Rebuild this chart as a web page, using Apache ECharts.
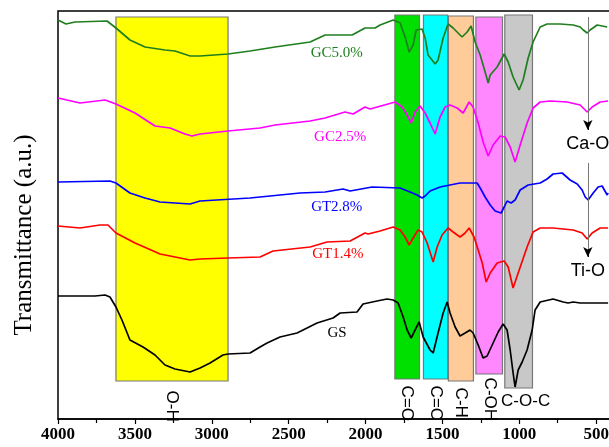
<!DOCTYPE html>
<html>
<head>
<meta charset="utf-8">
<script src="https://cdn.jsdelivr.net/npm/echarts@6/dist/echarts.min.js"></script>
<style>
	html, body { margin: 0; padding: 0; background: #fff; }
	#chart { width: 609px; height: 447px; }
</style>
</head>
<body>
<div id="chart"></div>
<script>
// wavenumber (cm-1) / transmittance (a.u., offset per curve)
var gsWave = [4000, 3759, 3694, 3662, 3623, 3584, 3532, 3447, 3369, 3304, 3239, 3141, 3076, 3011, 2927, 2894, 2751, 2686, 2640, 2556, 2445, 2380, 2315, 2211, 2165, 2055, 2016, 1925, 1860, 1820, 1788, 1755, 1729, 1703, 1671, 1651, 1625, 1580, 1560, 1528, 1495, 1469, 1450, 1417, 1385, 1352, 1320, 1300, 1267, 1235, 1209, 1176, 1137, 1105, 1079, 1059, 1040, 1027, 1007, 981, 949, 916, 897, 864, 780, 714, 682, 649, 604, 519, 422];
var gsT = [123, 123, 124, 122, 112, 99, 79, 72, 64, 54, 50, 47, 51, 56, 64, 65, 66, 72, 76, 82, 86, 91, 96, 101, 106, 107, 115, 118, 120, 119, 116, 102, 89, 81, 91, 97, 82, 69, 66, 86, 106, 117, 106, 92, 83, 86, 89, 86, 74, 61, 63, 74, 87, 95, 89, 69, 46, 32, 49, 57, 69, 89, 109, 117, 120, 117, 116, 117, 116, 116, 116];

var gt14Wave = [4000, 3857, 3727, 3675, 3623, 3499, 3336, 3141, 3076, 2894, 2686, 2601, 2360, 2250, 2100, 2003, 1983, 1905, 1820, 1775, 1742, 1716, 1690, 1658, 1632, 1599, 1560, 1534, 1502, 1463, 1430, 1385, 1352, 1326, 1294, 1267, 1241, 1215, 1189, 1144, 1098, 1072, 1040, 1007, 949, 910, 864, 780, 649, 591, 558, 526, 474, 422];
var gt14T = [193, 191, 194, 194, 186, 176, 165, 159, 160, 161, 162, 168, 172, 177, 178, 186, 185, 188, 192, 189, 182, 174, 181, 189, 187, 176, 157, 172, 184, 191, 187, 182, 186, 191, 182, 169, 156, 137, 146, 156, 158, 152, 131, 146, 172, 187, 191, 191, 189, 186, 180, 186, 191, 191];

var gt28Wave = [4000, 3662, 3623, 3532, 3434, 3336, 3141, 3076, 2751, 2426, 2263, 2146, 2100, 1957, 1775, 1710, 1664, 1632, 1612, 1580, 1515, 1450, 1385, 1274, 1254, 1222, 1189, 1157, 1118, 1098, 1079, 1053, 1027, 994, 942, 864, 819, 780, 721, 669, 623, 591, 571, 552, 519, 487, 461, 428, 422];
var gt28T = [237, 238, 236, 226, 221, 217, 215, 218, 221, 226, 227, 230, 228, 232, 231, 227, 224, 221, 223, 228, 232, 234, 236, 236, 231, 222, 214, 208, 206, 212, 218, 216, 219, 229, 234, 236, 240, 245, 246, 239, 235, 229, 222, 219, 226, 232, 233, 224, 226];

var gc25Wave = [4000, 3857, 3694, 3623, 3499, 3369, 3271, 3174, 3128, 3076, 2894, 2686, 2588, 2360, 2263, 2133, 2081, 2003, 1970, 1807, 1762, 1736, 1703, 1677, 1645, 1612, 1580, 1547, 1515, 1482, 1450, 1404, 1365, 1326, 1300, 1267, 1235, 1202, 1170, 1124, 1092, 1059, 1027, 994, 949, 910, 864, 799, 688, 604, 558, 526, 474, 422];
var gc25T = [321, 316, 319, 315, 306, 293, 291, 285, 283, 285, 288, 291, 294, 298, 301, 307, 305, 312, 310, 317, 312, 306, 296, 307, 313, 306, 296, 285, 302, 312, 314, 311, 306, 317, 312, 296, 277, 263, 274, 283, 282, 272, 257, 274, 296, 311, 317, 318, 317, 314, 307, 312, 317, 318];

var gc50Wave = [4000, 3948, 3889, 3681, 3623, 3532, 3434, 3304, 3239, 3141, 3076, 2894, 2751, 2588, 2360, 2263, 2087, 2003, 1938, 1905, 1820, 1775, 1742, 1716, 1690, 1671, 1658, 1632, 1612, 1593, 1547, 1528, 1495, 1463, 1430, 1372, 1339, 1313, 1287, 1254, 1222, 1202, 1189, 1144, 1098, 1072, 1040, 1001, 975, 942, 910, 864, 819, 734, 649, 604, 584, 558, 539, 493, 428];
var gc50T = [399, 395, 397, 398, 391, 379, 372, 369, 368, 363, 363, 365, 368, 372, 377, 384, 384, 391, 391, 394, 399, 396, 382, 367, 374, 389, 391, 390, 381, 364, 355, 359, 381, 395, 391, 382, 387, 393, 377, 364, 347, 336, 344, 352, 365, 357, 342, 329, 339, 361, 377, 392, 395, 395, 394, 392, 389, 386, 389, 394, 392];

var seriesNames = ['GS', 'GT1.4%', 'GT2.8%', 'GC2.5%', 'GC5.0%'];
var seriesColors = ['#000000', '#ff0000', '#0000ff', '#ff00ff', '#1f7f1f'];
// where the curve names sit [wavenumber, a.u.]
var nameSpots = [[2185, 86], [2180, 165], [2187, 212], [2165, 282], [2187, 366]];

// assignment bands: from / to wavenumber, top / bottom, label, colour
var bandFrom = [3623, 1809, 1623, 1461, 1282, 1094];
var bandTo = [2894, 1649, 1465, 1298, 1109, 914];
var bandTop = [402, 404, 404, 403, 402, 404];
var bandBottom = [38, 40, 40, 38, 45, 31];
var bandLabels = ['O-H', 'C=O', 'C=C', 'C-H', 'C-OH', 'C-O-C'];
var bandColors = ['#ffff00', '#00e000', '#00ffff', '#ffcc99', '#ff88ff', '#c8c8c8'];

// Ca-O / Ti-O arrows: wavenumber, from, to
var arrowLabels = ['Ca-O', 'Ti-O'];
var arrowWave = [554, 554];
var arrowFrom = [402, 256];
var arrowTo = [289, 162];

var xTicks = { min: 0, max: 4000, step: 500 };

var serif = '"Times New Roman", "Liberation Serif", serif';
var sans = 'Arial, "Liberation Sans", sans-serif';

function zip(a, b) {
	var out = [];
	for (var i = 0; i < a.length; i++) {
		out.push([a[i], b[i]]);
	}
	return out;
}

var waves = [gsWave, gt14Wave, gt28Wave, gc25Wave, gc50Wave];
var values = [gsT, gt14T, gt28T, gc25T, gc50T];

var bandData = [];
for (var i = 0; i < bandFrom.length; i++) {
	var rotated = bandLabels[i] !== 'C-O-C';
	bandData.push([
		{
			name: bandLabels[i],
			xAxis: bandFrom[i],
			yAxis: bandTop[i],
			itemStyle: { color: bandColors[i], borderColor: '#777', borderWidth: 1.2 },
			label: rotated ? {
				rotate: -90,
				align: 'left',
				verticalAlign: 'middle',
				distance: i === 0 ? 9 : (i === 4 ? 3 : 6)
			} : {
				distance: 4,
				offset: [7, 0]
			}
		},
		{ xAxis: bandTo[i], yAxis: bandBottom[i] }
	]);
}

// gray shaft without head, short black piece carries the head + label
var shaftData = [];
var headData = [];
for (var i = 0; i < arrowLabels.length; i++) {
	shaftData.push([
		{ coord: [arrowWave[i], arrowFrom[i]] },
		{ coord: [arrowWave[i], arrowTo[i]] }
	]);
	headData.push([
		{ name: arrowLabels[i], coord: [arrowWave[i], arrowTo[i] + 3] },
		{ coord: [arrowWave[i], arrowTo[i]] }
	]);
}

var series = [
	{
		name: 'bands',
		type: 'line',
		data: [],
		z: 1,
		markArea: {
			silent: true,
			label: {
				show: true,
				position: 'bottom',
				color: '#000',
				fontFamily: sans,
				fontSize: 17
			},
			data: bandData
		}
	},
	{
		name: 'shafts',
		type: 'line',
		data: [],
		z: 2,
		markLine: {
			silent: true,
			symbol: ['none', 'none'],
			lineStyle: { color: '#777', width: 1, type: 'solid' },
			label: { show: false },
			data: shaftData
		}
	},
	{
		name: 'heads',
		type: 'line',
		data: [],
		z: 2,
		markLine: {
			silent: true,
			symbol: ['none', 'arrow'],
			symbolSize: [7, 10],
			lineStyle: { color: '#000', width: 1, type: 'solid' },
			label: {
				show: true,
				position: 'end',
				distance: 5,
				formatter: '{b}',
				color: '#000',
				fontFamily: sans,
				fontSize: 18
			},
			data: headData
		}
	}
];

for (var s = 0; s < seriesNames.length; s++) {
	series.push({
		name: seriesNames[s],
		type: 'line',
		z: 3,
		showSymbol: false,
		symbol: 'none',
		color: seriesColors[s],
		lineStyle: { width: 1.7, color: seriesColors[s] },
		data: zip(waves[s], values[s]),
		markPoint: {
			silent: true,
			symbol: 'circle',
			symbolSize: 1,
			itemStyle: { color: 'rgba(0,0,0,0)' },
			label: {
				show: true,
				position: 'inside',
				formatter: seriesNames[s],
				color: seriesColors[s],
				fontFamily: serif,
				fontSize: 15
			},
			data: [{ coord: nameSpots[s] }]
		}
	});
}

var chart = echarts.init(document.getElementById('chart'), null, { renderer: 'canvas' });
chart.setOption({
	animation: false,
	backgroundColor: '#fff',
	grid: {
		left: 58,
		top: 11,
		bottom: 28,
		right: -64,
		outerBoundsMode: 'none',
		containLabel: false,
		show: true,
		borderColor: '#000',
		borderWidth: 1.5,
		backgroundColor: 'transparent'
	},
	xAxis: {
		type: 'value',
		inverse: true,
		min: xTicks.min,
		max: xTicks.max,
		interval: xTicks.step,
		axisLine: { show: true, lineStyle: { color: '#000', width: 1.5 } },
		axisTick: { show: true, inside: false, length: 5, lineStyle: { color: '#000', width: 1.2 } },
		minorTick: { show: true, splitNumber: 2, length: 4, lineStyle: { color: '#000', width: 1.2 } },
		splitLine: { show: false },
		axisLabel: {
			color: '#000',
			fontFamily: serif,
			fontWeight: 'bold',
			fontSize: 17,
			margin: 7,
			formatter: function (v) { return String(v); }
		}
	},
	yAxis: {
		type: 'value',
		min: 0,
		max: 408,
		axisLine: { show: true, lineStyle: { color: '#000', width: 1.5 } },
		axisTick: { show: false },
		axisLabel: { show: false },
		splitLine: { show: false }
	},
	graphic: [
		{
			type: 'text',
			x: 24,
			y: 235,
			rotation: Math.PI / 2,
			style: {
				text: 'Transmittance (a.u.)',
				font: '25px ' + serif,
				fill: '#000',
				align: 'center',
				verticalAlign: 'middle',
				textAlign: 'center',
				textVerticalAlign: 'middle'
			}
		}
	],
	series: series
});
</script>
</body>
</html>
